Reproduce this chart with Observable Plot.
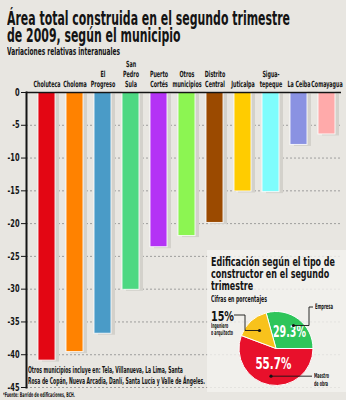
<!DOCTYPE html>
<html><head><meta charset="utf-8">
<script src="https://cdn.jsdelivr.net/npm/d3@7"></script>
<script src="https://cdn.jsdelivr.net/npm/@observablehq/plot@0.6"></script>
<style>
body{margin:0;background:#e8e6e1;}
#wrap{position:relative;width:346px;height:400px;overflow:hidden;background:#e8e6e1;font-family:"Liberation Sans Narrow","DejaVu Sans Condensed",sans-serif;font-weight:bold;color:#141414;}
.t{position:absolute;white-space:nowrap;transform-origin:0 0;line-height:1;}
#chart,#inset{position:absolute;}
#chart{left:0;top:58px;}
#inset{left:207px;top:250px;}
</style></head><body>
<div id="wrap">
  <div id="chart"></div>
  <div id="inset"></div>
  <div class="t" id="t1" data-w="283" style="left:7px;top:11.25px;font-size:19.5px;line-height:16px">Área total construida en el segundo trimestre</div>
  <div class="t" data-same="t1" style="left:7px;top:27.75px;font-size:19.5px;line-height:16px">de 2009, según el municipio</div>
  <div class="t" data-w="113" style="left:7px;top:45.5px;font-size:11px">Variaciones relativas interanuales</div>
  <div class="t" id="n2" data-w="177" style="left:28px;top:375.7px;font-size:9.5px;line-height:10px">Rosa de Copán, Nueva Arcadia, Danlí, Santa Lucía y Valle de Ángeles.</div>
  <div class="t" data-same="n2" style="left:28px;top:365.2px;font-size:9.5px;line-height:10px">Otros municipios incluye en: Tela, Villanueva, La Lima, Santa</div>
  <div class="t" data-w="72" style="left:3px;top:392px;font-size:6.5px">*Fuente: Barrido de edificaciones, BCH.</div>
  <div class="t" id="i1" data-w="124" style="left:211px;top:255.75px;font-size:13px;line-height:11.5px">Edificación según el tipo de</div>
  <div class="t" data-same="i1" style="left:211px;top:267.75px;font-size:13px;line-height:11.5px">constructor en el segundo</div>
  <div class="t" data-same="i1" style="left:211px;top:279.75px;font-size:13px;line-height:11.5px">trimestre</div>
  <div class="t" data-w="56" style="left:211px;top:295px;font-size:8.5px">Cifras en porcentajes</div>
  <div class="t" data-w="23" style="left:211px;top:310.2px;font-size:14px;line-height:12px">15%</div>
  <div class="t" data-w="22" style="left:211px;top:322.5px;font-size:7px;line-height:7.5px">Ingeniero<br>o arquitecto</div>
  <div class="t" data-w="18" style="left:315px;top:302.5px;font-size:7.5px">Empresa</div>
  <div class="t" data-w="15" style="left:314px;top:371.6px;font-size:7px;line-height:8px">Maestro<br>de obra</div>
</div>
<script>
// ---- data ----
const municipios = ["Choluteca","Choloma","El Progreso","San Pedro Sula","Puerto Cortés","Otros municipios","Distrito Central","Juticalpa","Siguatepeque","La Ceiba","Comayagua"];
const etiquetas = ["Choluteca","Choloma","El\nProgreso","San\nPedro\nSula","Puerto\nCortés","Otros\nmunicipios","Distrito\nCentral","Juticalpa","Sigua-\ntepeque","La Ceiba","Comayagua"];
const variaciones = [-40.9,-39.6,-36.8,-30.1,-23.6,-21.9,-19.9,-15.1,-15.2,-8.0,-6.4];
const colores = ["#e30613","#ff8200","#4a9bc7","#4dd882","#b433f5","#8cf552","#9b4a00","#ffcc00","#7ffcfc","#8a92e2","#ffaaaa"];
const yTicks = [0,-5,-10,-15,-20,-25,-30,-35,-40,-45];

const tipos = ["Empresa","Maestro de obra","Ingeniero o arquitecto"];
const porcentajes = [29.3, 55.7, 15];
const etiquetasPie = ["29.3%","55.7%",""];
const coloresPie = ["#2ec55a","#e8102b","#f8c21c"];

const FONT = '"Liberation Sans Narrow","DejaVu Sans Condensed",sans-serif';

// ---- main chart ----
const data = municipios.map((m, i) => ({m, v: variaciones[i], c: colores[i]}));
const chart = Plot.plot({
  width: 346, height: 342,
  marginTop: 34, marginBottom: 13, marginLeft: 26, marginRight: 5,
  style: {background: "transparent", fontFamily: FONT, fontWeight: "bold", color: "#141414", overflow: "visible"},
  x: {domain: municipios, range: [31, 342], paddingInner: 0.4, paddingOuter: 0.2, axis: null},
  y: {domain: [-45, 0], axis: null},
  color: {type: "identity"},
  marks: [
    Plot.ruleY(yTicks.filter(d => d !== 0), {stroke: "#8c8c8c", strokeDasharray: "2,2", strokeWidth: 0.8}),
    Plot.barY(data, {x: "m", y: "v", fill: "#d3d1cb", dx: 4, dy: 1.5}),
    Plot.barY(data, {x: "m", y: "v", fill: "c", stroke: "#ffffff", strokeWidth: 1, strokeOpacity: 0.85}),
    Plot.ruleY([0], {stroke: "#141414", strokeWidth: 1.5}),
    Plot.frame({anchor: "left", stroke: "#141414", strokeWidth: 2}),
    Plot.axisY({ticks: yTicks, label: null, tickSize: 5, tickPadding: 2, tickFormat: d => String(d), fontSize: 10, fontWeight: "bold", stroke: "#141414"}),
    Plot.axisX({anchor: "top", label: null, tickSize: 0, tickPadding: 6, tickFormat: d => etiquetas[municipios.indexOf(d)], fontSize: 8.5, fontWeight: "bold", lineHeight: 1.12})
  ]
});
document.getElementById("chart").append(chart);

// condense texts (the reference uses a compressed typeface)
function condense(nodes, f) {
  nodes.forEach(t => {
    const tr = t.getAttribute("transform") || "";
    const x = parseFloat(t.getAttribute("x")) || 0;
    t.setAttribute("transform", `${tr} translate(${x},0) scale(${f},1) translate(${-x},0)`);
  });
}
function widthOf(nodes, str) {
  for (const t of nodes) if (t.textContent === str) return t.getBBox().width;
  return null;
}
const xLabels = [...chart.querySelectorAll('g[aria-label^="x-axis"] text')];
const yLabels = [...chart.querySelectorAll('g[aria-label^="y-axis"] text')];
const wx = widthOf(xLabels, "Choluteca");
if (wx) condense(xLabels, 27 / wx);
const wy = widthOf(yLabels, "-40");
if (wy) condense(yLabels, Math.min(1, 12 / wy));

// ---- inset pie ----
const pieData = tipos.map((t, i) => ({t, p: porcentajes[i], c: coloresPie[i], l: etiquetasPie[i]}));
const W = 139, H = 142, cx = 69, cy = 98.5, R = 37;
const arcs = d3.pie().value(d => d.p).sort(null)
  .startAngle(-15.5 * Math.PI / 180).endAngle(344.5 * Math.PI / 180)(pieData);
// leader line bends (annotation anchors in inset coordinates)
const leaderEnds = [[[102, null], [102, 57], [106, 57]], [[105, null]], [[38, null], [38, 65], [27, 65]]];
const labelR = [0.6, 0.4, 0];
const labelW = [33, 36, 0];
const dotR = [0.78, 0.76, 0.66];

const pieMark = (index, scales, values, dims) => {
  const g = d3.create("svg:g");
  g.append("rect").attr("width", dims.width).attr("height", dims.height)
    .attr("fill", "#f3f2ee").attr("fill-opacity", 0.82);
  const arc = d3.arc().innerRadius(0).outerRadius(R);
  const pg = g.append("g").attr("transform", `translate(${cx},${cy})`);
  pg.selectAll("path").data(arcs).join("path")
    .attr("d", arc).attr("fill", d => d.data.c).attr("stroke", "#ffffff").attr("stroke-width", 1);
  arcs.forEach((d, i) => {
    const c = d3.arc().innerRadius(R * dotR[i]).outerRadius(R * dotR[i]).centroid(d);
    const p0 = [cx + c[0], cy + c[1]];
    const pts = [p0, ...leaderEnds[i].map(p => [p[0], p[1] == null ? p0[1] : p[1]])];
    g.append("path").attr("d", d3.line()(pts)).attr("fill", "none").attr("stroke", "#141414").attr("stroke-width", 0.9);
    g.append("circle").attr("cx", p0[0]).attr("cy", p0[1]).attr("r", 1.6).attr("fill", "#141414");
  });
  pg.selectAll("text").data(arcs.filter(d => d.data.l)).join("text")
    .attr("data-i", d => arcs.indexOf(d))
    .attr("transform", d => {
      const i = arcs.indexOf(d);
      const c = d3.arc().innerRadius(R * labelR[i]).outerRadius(R * labelR[i]).centroid(d);
      return `translate(${c[0]},${c[1]})`;
    })
    .attr("text-anchor", "middle").attr("dy", "0.36em")
    .attr("fill", "#fff").attr("font-size", 16.5).attr("font-weight", "bold")
    .attr("font-family", FONT).text(d => d.data.l);
  return g.node();
};
const inset = Plot.plot({
  width: W, height: H, margin: 0,
  x: {domain: [0, W], axis: null}, y: {domain: [0, H], axis: null},
  style: {background: "transparent", overflow: "visible"},
  marks: [pieMark]
});
document.getElementById("inset").append(inset);
inset.querySelectorAll("text[data-i]").forEach(t => {
  const i = +t.getAttribute("data-i");
  const f = labelW[i] / t.getBBox().width;
  t.setAttribute("transform", t.getAttribute("transform") + ` scale(${f},1)`);
});

// ---- fit HTML text widths ----
const factors = {};
document.querySelectorAll(".t[data-w]").forEach(el => {
  const f = +el.dataset.w / el.getBoundingClientRect().width;
  if (el.id) factors[el.id] = f;
  el.style.transform = `scaleX(${f})`;
});
document.querySelectorAll(".t[data-same]").forEach(el => {
  el.style.transform = `scaleX(${factors[el.dataset.same]})`;
});
</script>
</body></html>
